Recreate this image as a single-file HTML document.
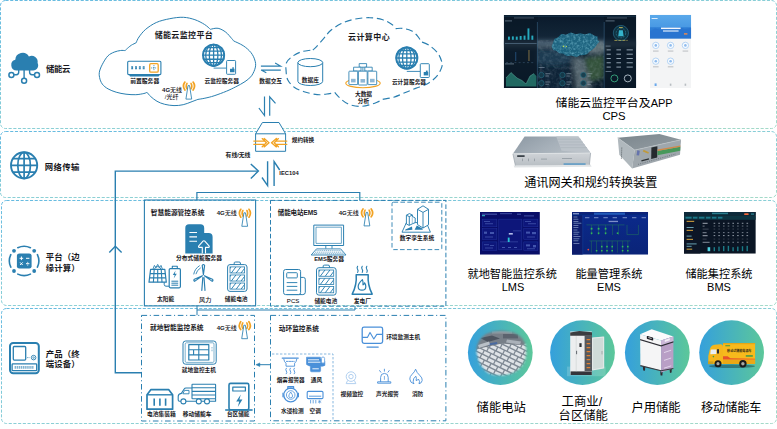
<!DOCTYPE html>
<html lang="zh-CN">
<head>
<meta charset="utf-8">
<title>储能云监控平台架构</title>
<style>
html,body{margin:0;padding:0;background:#fff;}
body{width:777px;height:429px;overflow:hidden;position:relative;font-family:"Liberation Sans","Noto Sans CJK SC",sans-serif;}
svg{position:absolute;left:0;top:0;display:block;}
svg text{font-family:"Liberation Sans","Noto Sans CJK SC",sans-serif;}
</style>
</head>
<body>
<svg width="777" height="429" viewBox="0 0 777 429">
<defs>
<linearGradient id="pg" x1="0" y1="0" x2="1" y2="1"><stop offset="0" stop-color="#4aaedb"/><stop offset="0.5" stop-color="#74c6cf"/><stop offset="1" stop-color="#93d3bf"/></linearGradient>
<linearGradient id="cg" x1="0" y1="0" x2="1" y2="0"><stop offset="0" stop-color="#35a0dc"/><stop offset="1" stop-color="#5cc79a"/></linearGradient>
</defs>
<rect x="0.5" y="0.5" width="776" height="128" rx="5" ry="5" fill="none" stroke="url(#pg)" stroke-width="0.85" stroke-dasharray="3.1 1.6"/>
<rect x="0.5" y="131.5" width="776" height="66" rx="5" ry="5" fill="none" stroke="url(#pg)" stroke-width="0.85" stroke-dasharray="3.1 1.6"/>
<rect x="1.5" y="200.5" width="775" height="105" rx="5" ry="5" fill="none" stroke="url(#pg)" stroke-width="0.85" stroke-dasharray="3.1 1.6"/>
<rect x="1.5" y="308.5" width="775" height="115" rx="5" ry="5" fill="none" stroke="url(#pg)" stroke-width="0.85" stroke-dasharray="3.1 1.6"/>
<!-- layer: 储能云 -->
<g fill="#2a7fb0" stroke="none"><path d="M16.6 70.6a5.5 5.5 0 0 1 -1.3 -10.8a7.3 7.3 0 0 1 13.6 -3.3a6.1 6.1 0 0 1 8.7 6.5a5.2 5.2 0 0 1 -4.4 7.6z"/></g>
<g fill="none" stroke="#2a7fb0" stroke-width="1.4"><path d="M24.1 70v8M18.7 70v2.2q0 2.2 -2.4 2.6h-2.2M29.6 70v2.2q0 2.2 2.4 2.6h2.2"/><circle cx="11.4" cy="74.9" r="2.5" fill="#fff" stroke-width="1.5"/><circle cx="37" cy="74.9" r="2.5" fill="#fff" stroke-width="1.5"/><circle cx="24.1" cy="80.7" r="2.5" fill="#fff" stroke-width="1.5"/></g>
<text x="45.90" y="72.01" font-size="8.4" font-weight="bold" text-anchor="start" letter-spacing="-0.35" fill="#17171c">储能云</text>
<!-- layer: 网络传输 -->
<g fill="none" stroke="#2a7fb0" stroke-width="1.9"><circle cx="24.1" cy="165.4" r="13.1"/><ellipse cx="24.1" cy="165.4" rx="6.3" ry="13.1" stroke-width="1.7"/><path d="M24.1 152.2v26.4M11 165.4h26.2M13 158.7h22.2M13 172.1h22.2" stroke-width="1.7"/></g>
<text x="44.80" y="170.21" font-size="8.4" font-weight="bold" text-anchor="start" letter-spacing="0.33" fill="#17171c">网络传输</text>
<!-- layer: 平台 -->
<g fill="none" stroke="#2a7fb0" stroke-width="1.6" stroke-linecap="round"><path d="M17.8 247.7a14.6 14.6 0 0 1 12.6 0M37.4 254.6a14.6 14.6 0 0 1 0 12.6M30.4 274.1a14.6 14.6 0 0 1 -12.6 0M10.8 267.2a14.6 14.6 0 0 1 0 -12.6"/></g>
<g fill="#2a7fb0"><circle cx="14" cy="250.8" r="1.9"/><circle cx="34.2" cy="250.8" r="1.9"/><circle cx="14" cy="271" r="1.9"/><circle cx="34.2" cy="271" r="1.9"/><rect x="16.9" y="253.4" width="14.7" height="15.2" rx="2.4"/></g>
<g stroke="#fff" stroke-width="1" fill="none"><path d="M19.6 258.3h3.6M21.4 256.5v3.6M26 258.3h3.4M20.1 262.4l2.6 2.6M22.7 262.4l-2.6 2.6M26 263.7h3.4M27.7 261.9v0.8M27.7 264.7v0.8"/></g>
<text x="45.80" y="260.21" font-size="8.4" font-weight="bold" text-anchor="start" letter-spacing="0.15" fill="#17171c">平台（边</text>
<text x="45.80" y="270.51" font-size="8.4" font-weight="bold" text-anchor="start" letter-spacing="0.15" fill="#17171c">缘计算）</text>
<!-- layer: 产品 -->
<g fill="none" stroke="#2a7fb0"><rect x="10" y="342.9" width="28.8" height="30.4" rx="3.2" stroke-width="2"/><rect x="13.3" y="346.5" width="12.4" height="13.6" rx="1" stroke-width="1.3"/><circle cx="33.6" cy="357.6" r="2.3" stroke-width="0.9"/><circle cx="33.6" cy="357.6" r="0.8" stroke-width="0.7"/><path d="M27.2 357.6h2.4" stroke-width="0.8" stroke-dasharray="0.8 0.6"/><rect x="12.1" y="363.9" width="24.6" height="6.8" rx="0.8" stroke-width="1.3"/><path d="M14.6 367.4H34" stroke-width="2.6" stroke-dasharray="1.5 0.6" opacity="0.6"/></g>
<text x="45.80" y="356.51" font-size="8.4" font-weight="bold" text-anchor="start" letter-spacing="0.15" fill="#17171c">产品（终</text>
<text x="45.80" y="366.71" font-size="8.4" font-weight="bold" text-anchor="start" letter-spacing="0.15" fill="#17171c">端设备）</text>
<!-- 储能云监控平台 -->
<path d="M125.1 50.6C125.6 50.1 127.2 48.5 128.3 47.6C129.4 46.7 130.2 45.9 131.5 45.1C132.8 44.3 135.3 43.2 136.1 42.8C136.6 41.8 137.4 39.2 139.0 37.0C140.6 34.8 142.8 31.7 145.7 29.3C148.6 26.9 152.3 24.3 156.3 22.5C160.3 20.7 165.3 19.6 169.8 18.7C174.3 17.8 179.2 17.1 183.4 17.3C187.6 17.5 191.4 18.5 194.9 19.7C198.4 20.9 202.0 22.9 204.6 24.5C207.2 26.1 209.4 28.5 210.4 29.3C211.7 29.1 215.5 27.8 218.1 28.3C220.7 28.8 223.6 30.5 225.8 32.2C228.1 33.9 230.3 37.0 231.6 38.4C232.9 39.8 233.3 40.5 233.6 40.9C235.2 41.7 240.3 43.8 243.2 45.7C246.1 47.6 249.0 50.1 250.9 52.5C252.8 54.9 254.1 57.6 254.8 60.0C255.6 62.4 255.9 64.5 255.4 67.1C254.9 69.7 253.3 73.4 251.6 75.8C249.9 78.2 247.6 79.8 245.0 81.6C242.4 83.4 238.9 85.2 235.8 86.8C232.7 88.4 230.1 89.7 226.5 91.2C222.9 92.7 217.7 94.6 214.1 95.8C210.5 97.0 207.6 97.6 204.9 98.2C202.2 98.8 199.1 99.2 197.9 99.4C196.8 99.8 193.4 101.1 191.0 102.0C188.6 102.9 186.0 104.1 183.2 104.7C180.4 105.3 177.1 105.7 174.0 105.6C170.9 105.5 167.5 105.0 164.7 104.3C161.9 103.6 159.3 102.6 157.0 101.3C154.7 100.0 152.5 98.1 150.8 96.6C149.1 95.1 147.6 93.0 147.0 92.3C146.5 92.5 145.8 93.1 143.9 93.5C142.0 93.9 138.8 94.6 135.8 94.7C132.8 94.8 129.3 94.6 126.0 94.2C122.7 93.8 119.2 93.1 116.2 92.2C113.2 91.3 110.4 90.2 108.1 88.9C105.8 87.6 103.7 86.0 102.3 84.1C100.9 82.2 100.0 79.7 99.6 77.5C99.1 75.3 99.0 73.5 99.6 71.0C100.2 68.5 101.8 65.3 103.2 62.8C104.6 60.3 106.2 57.6 108.0 55.8C109.8 54.0 112.1 53.0 114.2 52.1C116.3 51.2 118.8 50.8 120.6 50.5C122.4 50.2 124.3 50.6 125.1 50.6Z" fill="none" stroke="#2a7fb0" stroke-width="1" stroke-linejoin="round"/>
<text x="183.90" y="38.26" font-size="8" font-weight="bold" text-anchor="middle" letter-spacing="0.35" fill="#17171c">储能云监控平台</text>
<g><path d="M129 74.6H159.6L158.6 76.6H130Z" fill="#2a7fb0"/><rect x="127.7" y="61.2" width="33.2" height="13.4" rx="1" fill="#fff" stroke="#2a7fb0" stroke-width="1.1"/><path d="M131.2 67.8h13.6" stroke="#2a7fb0" stroke-width="3" stroke-dasharray="1.9 1.95" fill="none"/><path d="M131.2 67.8h13.6" stroke="#fff" stroke-width="1" stroke-dasharray="0.5 0.9 0.5 1.95" stroke-dashoffset="-0.25" fill="none" opacity="0.7"/><rect x="149.7" y="63.7" width="8.5" height="8.5" rx="1.2" fill="#fff" stroke="#f2a324" stroke-width="1.3"/><path d="M153.95 65.2v5.5M151.2 67.95h5.5" stroke="#2a7fb0" stroke-width="0.9" stroke-dasharray="1 0.8" fill="none"/></g>
<text x="144.70" y="83.05" font-size="5.8" font-weight="bold" text-anchor="middle" fill="#17171c">前置服务器</text>
<text x="172.10" y="92.22" font-size="6" font-weight="500" text-anchor="middle" fill="#17171c"><tspan font-weight="bold">4G</tspan>无线</text>
<text x="171.60" y="99.22" font-size="6" font-weight="500" text-anchor="middle" fill="#17171c">/光纤</text>
<g fill="none" stroke-linecap="round"><path d="M187.00 83.30Q185.30 86.00 187.00 88.90M191.00 83.30Q192.70 86.00 191.00 88.90" stroke="#f2a324" stroke-width="1.55"/><path d="M184.90 82.10Q182.00 86.00 184.90 90.00M193.10 82.10Q196.00 86.00 193.10 90.00" stroke="#f2a324" stroke-width="1.75"/><path d="M188.45 85.60L189.55 85.60L191.70 99.10L186.30 99.10Z" stroke="#2a7fb0" stroke-width="0.85" stroke-linejoin="round" fill="#fff"/></g>
<clipPath id="gc1"><circle cx="213.6" cy="55.2" r="11.50"/></clipPath>
<path d="M213.60 68.10H226.6" stroke="#2a7fb0" stroke-width="0.9" fill="none"/>
<circle cx="213.6" cy="55.2" r="10.55" fill="#fff" stroke="#2a7fb0" stroke-width="1.9"/>
<g clip-path="url(#gc1)" fill="none" stroke="#2a7fb0" stroke-width="1.3"><path d="M202.1 55.2H225.1M202.1 51.150000000000006H225.1M202.1 59.25H225.1M202.1 47.7H225.1M202.1 62.7H225.1M213.6 43.7V66.7"/><ellipse cx="213.6" cy="55.2" rx="4.3" ry="11.00"/><ellipse cx="213.6" cy="55.2" rx="7.9" ry="11.20"/></g>
<rect x="226.6" y="60.5" width="9" height="13.8" rx="0.8" fill="#fff" stroke="#2a7fb0" stroke-width="0.95"/>
<rect x="230.02" y="68.78" width="4.50" height="3.45" fill="#2a7fb0"/>
<rect x="232.18" y="67.40" width="1.80" height="1.38" fill="#2a7fb0"/>
<text x="221.80" y="83.03" font-size="5.75" font-weight="bold" text-anchor="middle" fill="#17171c">云监控服务器</text>
<g fill="none" stroke="#2a7fb0" stroke-width="1.15" stroke-linejoin="miter"><path d="M260.9 66.1H280.6L275.1 63M280.8 70.1H261.1L266.3 72.8"/></g>
<text x="270.70" y="82.61" font-size="5.7" font-weight="bold" text-anchor="middle" fill="#17171c">数据交互</text>
<g fill="none" stroke="#2a7fb0" stroke-width="1.2"><path d="M264.5 96.6V115.5L258.9 108M269.7 115.7V96.8L275.5 103.4"/></g>
<!-- 云计算中心 -->
<path d="M312.8 50.0C313.4 49.5 314.3 49.1 316.1 47.2C317.9 45.3 321.4 41.1 323.8 38.4C326.2 35.7 327.4 33.3 330.3 30.8C333.2 28.3 337.3 25.5 341.3 23.6C345.3 21.7 349.7 20.2 354.4 19.2C359.1 18.2 365.0 17.6 369.7 17.7C374.4 17.8 379.1 18.7 382.8 19.8C386.5 20.9 389.4 22.7 391.6 24.2C393.8 25.7 395.3 27.9 396.0 28.6C397.1 28.6 399.9 28.0 402.5 28.4C405.1 28.8 408.8 29.5 411.3 30.8C413.9 32.1 416.2 34.5 417.8 36.3C419.4 38.1 420.6 40.8 421.1 41.7C422.4 42.2 426.1 43.2 428.8 45.0C431.5 46.8 435.4 50.0 437.5 52.7C439.6 55.4 440.8 58.7 441.5 61.0C442.2 63.3 442.6 64.2 441.9 66.6C441.2 69.0 439.7 72.6 437.5 75.3C435.3 78.0 432.4 80.8 428.8 83.0C425.2 85.2 419.6 86.8 415.6 88.4C411.6 90.0 408.3 91.3 404.7 92.8C401.1 94.3 397.4 96.1 393.8 97.2C390.2 98.3 384.6 99.0 382.8 99.4C382.1 99.8 380.6 100.7 378.4 101.6C376.2 102.5 373.0 104.0 369.7 104.8C366.4 105.6 362.4 106.6 358.8 106.4C355.2 106.2 350.9 105.2 347.8 103.8C344.7 102.4 342.4 100.2 340.2 98.3C338.0 96.4 335.6 93.4 334.7 92.4C333.6 92.7 331.0 93.5 328.1 93.9C325.2 94.3 321.2 95.0 317.2 94.6C313.2 94.2 307.9 92.9 304.1 91.7C300.3 90.5 296.9 89.3 294.2 87.3C291.5 85.3 289.0 82.4 287.7 79.7C286.4 77.0 286.3 73.8 286.1 70.9C285.9 68.0 285.4 65.0 286.6 62.5C287.8 60.0 290.6 57.7 293.1 55.9C295.7 54.1 299.0 52.5 301.9 51.6C304.8 50.7 308.8 50.5 310.6 50.2C312.4 49.9 312.4 50.0 312.8 50.0Z" fill="none" stroke="#2a7fb0" stroke-width="1.15" stroke-dasharray="7 3.8" stroke-linejoin="round"/>
<text x="369.10" y="40.36" font-size="8" font-weight="bold" text-anchor="middle" letter-spacing="0.45" fill="#17171c">云计算中心</text>
<g fill="#fff" stroke="#2a7fb0" stroke-width="1"><path d="M297.9 62.6V81.4A12.4 4.1 0 0 0 322.7 81.4V62.6"/><ellipse cx="310.3" cy="62.6" rx="12.4" ry="4.1"/></g>
<text x="310.30" y="81.91" font-size="5.7" font-weight="bold" text-anchor="middle" fill="#17171c">数据库</text>
<ellipse cx="363" cy="83.2" rx="17.2" ry="4.5" fill="none" stroke="#f2a324" stroke-width="1.1"/>
<g fill="#fff" stroke="#2a7fb0" stroke-width="0.85" stroke-linejoin="round"><path d="M357.4 67.6V71M368.4 67.6V71M362.9 65V71" fill="none"/><rect x="359.2" y="63.6" width="7.4" height="3.6"/><rect x="353.6" y="67.2" width="7.4" height="3.8"/><rect x="364.8" y="67.2" width="7.4" height="3.8"/><rect x="348.9" y="71.2" width="8.8" height="13.4" rx="0.6"/><rect x="367.9" y="71.2" width="8.8" height="13.4" rx="0.6"/><rect x="358.4" y="71.2" width="8.8" height="13.8" rx="0.6"/></g>
<g fill="#8fb8d6"><rect x="351" y="78.8" width="4.6" height="3.6"/><rect x="360.5" y="79" width="4.6" height="3.6"/><rect x="370" y="78.8" width="4.6" height="3.6"/></g>
<text x="363.50" y="96.01" font-size="5.7" font-weight="bold" text-anchor="middle" fill="#17171c">大数据</text>
<text x="363.50" y="102.51" font-size="5.7" font-weight="bold" text-anchor="middle" fill="#17171c">分析</text>
<clipPath id="gc2"><circle cx="406.8" cy="58" r="11.50"/></clipPath>
<path d="M406.80 71.40H420.3" stroke="#2a7fb0" stroke-width="0.9" fill="none"/>
<circle cx="406.8" cy="58" r="10.55" fill="#fff" stroke="#2a7fb0" stroke-width="1.9"/>
<g clip-path="url(#gc2)" fill="none" stroke="#2a7fb0" stroke-width="1.3"><path d="M395.3 58H418.3M395.3 53.95H418.3M395.3 62.05H418.3M395.3 50.5H418.3M395.3 65.5H418.3M406.8 46.5V69.5"/><ellipse cx="406.8" cy="58" rx="4.3" ry="11.00"/><ellipse cx="406.8" cy="58" rx="7.9" ry="11.20"/></g>
<rect x="420.3" y="63.7" width="9" height="13.8" rx="0.8" fill="#fff" stroke="#2a7fb0" stroke-width="0.95"/>
<rect x="423.72" y="71.98" width="4.50" height="3.45" fill="#2a7fb0"/>
<rect x="425.88" y="70.60" width="1.80" height="1.38" fill="#2a7fb0"/>
<text x="409.00" y="83.81" font-size="5.7" font-weight="bold" text-anchor="middle" fill="#17171c">云计算服务器</text>
<!-- 规约转换 -->
<g fill="#fff" stroke="#2a7fb0" stroke-width="1" stroke-linejoin="round"><path d="M255.6 133.8L262.4 122.5H279L285.6 133.8V151.3H255.6Z"/><path d="M255.6 133.8H285.6" fill="none"/></g>
<g fill="none" stroke="#f2a324" stroke-width="1.35" stroke-linejoin="round" stroke-linecap="round"><path d="M253.8 141.1H264.2V138.5L269 142.7L264.2 146.9V144.3H253.8M286.8 141.1H276.4V138.5L271.5 142.7L276.4 146.9V144.3H286.8"/><path d="M262.2 138.6L266.4 142.7L262.2 146.8M278.4 138.6L274.2 142.7L278.4 146.8"/></g>
<text x="303.00" y="142.27" font-size="5.6" font-weight="bold" text-anchor="middle" fill="#17171c">规约转换</text>
<text x="238.00" y="156.85" font-size="5.8" font-weight="bold" text-anchor="middle" fill="#17171c">有线/无线</text>
<text x="289.00" y="174.65" font-size="5.8" font-weight="bold" text-anchor="middle" fill="#17171c">IEC104</text>
<g fill="none" stroke="#2a7fb0" stroke-width="1.4" stroke-linejoin="miter"><path d="M141 372.8H115.3V171.1H257.8"/><path d="M250.8 163.9L258.4 171.1L250.8 178.4"/><path d="M109.3 252.4L115.3 246.2L121.6 252.4"/><path d="M267.6 161.3V185.6L262 177.5M274.1 185.9V161.6L279.7 170"/><path d="M196.9 200V192.5H359.8V200" stroke-width="1.2"/><path d="M197 306V315.2M197 310H355V306" stroke-width="1"/></g>
<!-- 智慧能源管控系统 -->
<rect x="144.4" y="200" width="111.2" height="105.9" fill="none" stroke="#2a7fb0" stroke-width="1.1"/>
<text x="177.60" y="215.28" font-size="6.7" font-weight="bold" text-anchor="middle" fill="#17171c">智慧能源管控系统</text>
<text x="226.70" y="215.02" font-size="6" font-weight="500" text-anchor="middle" fill="#17171c"><tspan font-weight="bold">4G</tspan>无线</text>
<g fill="none" stroke-linecap="round"><path d="M242.90 210.50Q241.20 213.20 242.90 216.10M246.90 210.50Q248.60 213.20 246.90 216.10" stroke="#f2a324" stroke-width="1.55"/><path d="M240.80 209.30Q237.90 213.20 240.80 217.20M249.00 209.30Q251.90 213.20 249.00 217.20" stroke="#f2a324" stroke-width="1.75"/><path d="M244.35 212.80L245.45 212.80L247.60 226.30L242.20 226.30Z" stroke="#2a7fb0" stroke-width="0.85" stroke-linejoin="round" fill="#fff"/></g>
<g fill="#2a7fb0"><path d="M185.3 253.4V228Q185.3 224.3 189 224.3H200.5Q204.2 224.3 204.2 228V232.9H208.6Q212.6 232.9 212.6 236.9V253.4Z"/></g>
<path d="M189.4 232.5h7.6M189.4 236.9h7.6M189.4 241.3h7.6" stroke="#fff" stroke-width="1.1" fill="none"/>
<path d="M202.3 253.6V247.4H199.4Q198 247.2 198.8 245.9L203 241.2Q203.9 240.2 204.8 241.2L209 245.9Q209.8 247.2 208.4 247.4H205.5V253.6" fill="#2a7fb0" stroke="#fff" stroke-width="1.1" stroke-linejoin="round"/>
<text x="199.00" y="260.23" font-size="5.75" font-weight="bold" text-anchor="middle" fill="#17171c">分布式储能服务器</text>
<g fill="none" stroke="#2a7fb0" stroke-linejoin="round"><path d="M153.2 268.6L154.4 265.4L156 267.6L157.7 264.4L159.4 267.6L161 265.4L162.2 268.6" stroke-width="0.9" stroke-linecap="round"/><path d="M154.6 269A3.2 3.2 0 0 1 160.8 269" stroke-width="0.9"/><path d="M150.6 269.4H164.8L166.3 282.2H149Z" stroke-width="1.2"/><path d="M150 273.6H165.4M149.5 277.9H165.8M154.2 269.4L153.4 282.2M157.7 269.4V282.2M161.2 269.4L162 282.2" stroke-width="1.1"/><path d="M164.2 282.2V284.4Q164.2 286.2 166 286.2H169" stroke-width="1"/><rect x="169.2" y="268.6" width="11.2" height="19.2" rx="1.2" fill="#fff" stroke-width="1.2"/><path d="M172.3 268.4V266.2H177.3V268.4" stroke-width="1.1"/><path d="M171.4 281.2H178.2M171.4 283.2H178.2M171.4 285.2H178.2" stroke-width="1"/></g>
<path d="M175.6 270.6L172.8 275H174.7L173.7 278.4L176.8 273.8H174.8Z" fill="#2a7fb0"/>
<text x="165.60" y="301.01" font-size="5.7" font-weight="bold" text-anchor="middle" fill="#17171c">太阳能</text>
<g fill="none" stroke="#2a7fb0" stroke-width="1.15" stroke-linejoin="round" stroke-linecap="round"><path d="M201.8 290.4L202.8 277.6M205 290.4L204 277.6"/><path d="M203.4 274.6L202.2 265.6Q203.4 263.4 204.6 265.6Z" fill="#fff"/><path d="M202.4 275.8L194.6 281.4Q193.2 280.4 194.4 279.2Z" fill="#fff"/><path d="M204.4 275.8L212.2 281.4Q213.6 280.4 212.4 279.2Z" fill="#fff"/><path d="M199.4 265.8Q194.6 268.8 193.8 274M200.4 268Q196.8 270.2 196 273.8" stroke-width="0.9"/></g>
<text x="205.20" y="302.09" font-size="6.2" font-weight="500" text-anchor="middle" fill="#17171c">风力</text>
<g fill="none" stroke="#2a7fb0" stroke-width="1.0">
<path d="M234.20 264.60V262.80Q234.20 262.00 235.75 262.00H238.85Q240.40 262.00 240.40 262.80V264.60"/>
<rect x="227.60" y="264.60" width="19.40" height="26.80" rx="2.4"/>
<clipPath id="bt1_0"><rect x="230.00" y="266.90" width="14.60" height="6.07"/></clipPath>
<path d="M226.11 273.47L231.41 266.40M230.97 273.47L236.27 266.40M235.84 273.47L241.14 266.40M240.71 273.47L246.01 266.40M245.57 273.47L250.87 266.40" stroke-width="0.95" clip-path="url(#bt1_0)"/>
<rect x="230.00" y="266.90" width="14.60" height="6.07" stroke-width="0.8"/>
<clipPath id="bt1_1"><rect x="230.00" y="274.97" width="14.60" height="6.07"/></clipPath>
<path d="M226.11 281.53L231.41 274.47M230.97 281.53L236.27 274.47M235.84 281.53L241.14 274.47M240.71 281.53L246.01 274.47M245.57 281.53L250.87 274.47" stroke-width="0.95" clip-path="url(#bt1_1)"/>
<rect x="230.00" y="274.97" width="14.60" height="6.07" stroke-width="0.8"/>
<clipPath id="bt1_2"><rect x="230.00" y="283.03" width="14.60" height="6.07"/></clipPath>
<path d="M226.11 289.60L231.41 282.53M230.97 289.60L236.27 282.53M235.84 289.60L241.14 282.53M240.71 289.60L246.01 282.53M245.57 289.60L250.87 282.53" stroke-width="0.95" clip-path="url(#bt1_2)"/>
<rect x="230.00" y="283.03" width="14.60" height="6.07" stroke-width="0.8"/>
</g>
<text x="236.20" y="301.01" font-size="5.7" font-weight="bold" text-anchor="middle" fill="#17171c">储能电池</text>
<!-- 就地智能监控系统 -->
<rect x="141.5" y="315.4" width="113" height="105.6" fill="none" stroke="#2a7fb0" stroke-width="1" stroke-dasharray="5.6 2.7 1.1 2.7"/>
<text x="176.80" y="330.08" font-size="6.7" font-weight="bold" text-anchor="middle" fill="#17171c">就地智能监控系统</text>
<text x="226.70" y="329.82" font-size="6" font-weight="500" text-anchor="middle" fill="#17171c"><tspan font-weight="bold">4G</tspan>无线</text>
<g fill="none" stroke-linecap="round"><path d="M242.80 322.90Q241.10 325.60 242.80 328.50M246.80 322.90Q248.50 325.60 246.80 328.50" stroke="#f2a324" stroke-width="1.55"/><path d="M240.70 321.70Q237.80 325.60 240.70 329.60M248.90 321.70Q251.80 325.60 248.90 329.60" stroke="#f2a324" stroke-width="1.75"/><path d="M244.25 325.20L245.35 325.20L247.50 338.70L242.10 338.70Z" stroke="#2a7fb0" stroke-width="0.85" stroke-linejoin="round" fill="#fff"/></g>
<g fill="none" stroke="#2a7fb0" stroke-linejoin="round"><rect x="183" y="341" width="33.2" height="23.2" rx="2.6" stroke-width="1"/><rect x="185.2" y="342.8" width="28.8" height="19.6" rx="1.2" stroke-width="0.6"/><rect x="188.8" y="344.6" width="20" height="15.4" stroke-width="1.2"/><path d="M188.8 349.7H208.8M188.8 354.9H208.8M198.8 344.6V360M193.6 349.7V354.9" stroke-width="1.1"/><path d="M212 347V352" stroke-width="0.7" stroke-dasharray="0.8 0.8"/></g>
<text x="198.90" y="372.01" font-size="5.7" font-weight="bold" text-anchor="middle" fill="#17171c">就地监控主机</text>
<g fill="none" stroke="#2a7fb0" stroke-width="1.7" stroke-linejoin="round"><path d="M147 409.2V394.8L151 389.6H168.6L172.6 394.8V409.2Z"/><path d="M147 394.8H172.6" stroke-width="1.4"/><path d="M154.2 398.4V405.8M159.9 398.4V405.8M165.6 398.4V405.8" stroke-width="1.6"/></g>
<text x="161.30" y="415.93" font-size="5.75" font-weight="bold" text-anchor="middle" fill="#17171c">电池集装箱</text>
<g fill="none" stroke="#2a7fb0" stroke-width="1.1" stroke-linejoin="round"><rect x="192" y="384.2" width="23.6" height="14.6" rx="0.6"/><path d="M192 387.8H215.6M192 391.4H215.6M192 395H215.6"/><path d="M192 388H186Q184.8 388 184 389.2L181.4 393.4Q178.2 394 178.2 396.4V400Q178.2 401.2 179.4 401.2H215.6V398.8"/><path d="M184.6 390.4H189V393.8H182.8Z" stroke-width="0.9"/><circle cx="183.4" cy="401.4" r="2.5" fill="#fff"/><circle cx="198.8" cy="401.4" r="2.5" fill="#fff"/><circle cx="207" cy="401.4" r="2.5" fill="#fff"/></g>
<text x="197.20" y="415.93" font-size="5.75" font-weight="bold" text-anchor="middle" fill="#17171c">移动储能车</text>
<g fill="none" stroke="#2a7fb0" stroke-linejoin="round"><rect x="229" y="383.4" width="19.8" height="26.4" rx="1.6" stroke-width="1.6"/><rect x="232.8" y="387.2" width="12.6" height="3.8" stroke-width="1.2"/><path d="M225.2 410H252.6" stroke-width="1.6"/></g>
<path d="M240.8 394.6L236.2 401.4H239.2L237.8 407L242.4 399.6H239.4Z" fill="#2a7fb0"/>
<text x="238.20" y="415.87" font-size="5.6" font-weight="bold" text-anchor="middle" fill="#17171c">台区储能</text>
<!-- 储能电站EMS -->
<rect x="270.5" y="200.4" width="175.4" height="105.8" fill="none" stroke="#2a7fb0" stroke-width="1" stroke-dasharray="4.6 2.3"/>
<text x="277.80" y="215.10" font-size="6.5" font-weight="bold" text-anchor="start" letter-spacing="-0.1" fill="#17171c">储能电站EMS</text>
<text x="348.80" y="214.92" font-size="6" font-weight="500" text-anchor="middle" fill="#17171c"><tspan font-weight="bold">4G</tspan>无线</text>
<g fill="none" stroke-linecap="round"><path d="M365.10 210.10Q363.40 212.80 365.10 215.70M369.10 210.10Q370.80 212.80 369.10 215.70" stroke="#f2a324" stroke-width="1.55"/><path d="M363.00 208.90Q360.10 212.80 363.00 216.80M371.20 208.90Q374.10 212.80 371.20 216.80" stroke="#f2a324" stroke-width="1.75"/><path d="M366.55 212.40L367.65 212.40L369.80 225.90L364.40 225.90Z" stroke="#2a7fb0" stroke-width="0.85" stroke-linejoin="round" fill="#fff"/></g>
<g fill="none" stroke="#2a7fb0" stroke-linejoin="round"><rect x="313.8" y="225.1" width="29.8" height="20.4" stroke-width="1"/><rect x="316" y="227.2" width="25.4" height="16.2" stroke-width="0.7"/><path d="M325.8 245.6V248.6M332 245.6V248.6" stroke-width="0.9"/><path d="M316.5 248.9H340.7L346 255H311.2Z" stroke-width="0.9" fill="#fff"/><path d="M316.4 250.6H341.4M315 252.2H342.6M313.8 253.7H344" stroke-width="0.6" stroke-dasharray="1.2 0.7"/></g>
<text x="329.20" y="261.25" font-size="5.8" font-weight="bold" text-anchor="middle" fill="#17171c">EMS服务器</text>
<rect x="392" y="202.2" width="49.8" height="47.4" rx="1.5" fill="none" stroke="#2a7fb0" stroke-width="0.9" stroke-dasharray="4.6 2.3"/>
<g fill="#fff" stroke="#2a7fb0" stroke-width="0.95" stroke-linejoin="round"><path d="M406.4 222.6L402 232.2H430.4L426.4 222.6Z"/><path d="M405.4 229.6L412 226.6L412.4 229.8L405 230.6ZM414.6 229.8L416.8 225.4L422.8 228.8L422.6 229.8Z" fill="#2a7fb0" stroke="none"/><path d="M406.4 224V215.2L409.4 213.6L412.4 215V223.8L409.2 225.4Z"/><path d="M406.4 215.2L409.3 216.6L412.4 215M409.3 216.6V225.2" fill="none"/><path d="M412.4 216.4L415.2 218V222.6L412.4 223.8" /><path d="M417.5 224.6V209.3L423 205.8L428.5 209.3V224.8L423 228Z"/><path d="M417.5 209.3L423 212.4L428.5 209.3M423 212.4V228" fill="none"/></g>
<text x="416.90" y="239.53" font-size="5.75" font-weight="bold" text-anchor="middle" fill="#17171c">数字孪生系统</text>
<g fill="none" stroke="#2a7fb0" stroke-linejoin="round"><path d="M300.6 277.4H303.4Q305.3 277.4 305.3 279.4V292.2Q305.3 294.6 302.8 294.6H286.8" stroke-width="1"/><rect x="283.6" y="269.5" width="17" height="25.1" rx="2" stroke-width="1" fill="#fff"/><rect x="286.7" y="272.7" width="10.6" height="5.2" rx="0.8" stroke-width="0.95"/><path d="M286.7 282.6H297.3M286.7 286.4H297.3M286.7 290.2H297.3" stroke-width="0.95"/></g>
<text x="293.10" y="302.86" font-size="6.1" font-weight="normal" text-anchor="middle" fill="#000">PCS</text>
<g fill="none" stroke="#2a7fb0" stroke-width="1.0">
<path d="M323.16 267.70V265.90Q323.16 265.10 324.73 265.10H327.87Q329.44 265.10 329.44 265.90V267.70"/>
<rect x="316.50" y="267.70" width="19.60" height="27.40" rx="2.4"/>
<clipPath id="bt2_0"><rect x="318.90" y="270.00" width="14.80" height="6.27"/></clipPath>
<path d="M314.95 276.77L320.40 269.50M319.89 276.77L325.34 269.50M324.82 276.77L330.27 269.50M329.75 276.77L335.20 269.50M334.69 276.77L340.14 269.50" stroke-width="0.95" clip-path="url(#bt2_0)"/>
<rect x="318.90" y="270.00" width="14.80" height="6.27" stroke-width="0.8"/>
<clipPath id="bt2_1"><rect x="318.90" y="278.27" width="14.80" height="6.27"/></clipPath>
<path d="M314.95 285.03L320.40 277.77M319.89 285.03L325.34 277.77M324.82 285.03L330.27 277.77M329.75 285.03L335.20 277.77M334.69 285.03L340.14 277.77" stroke-width="0.95" clip-path="url(#bt2_1)"/>
<rect x="318.90" y="278.27" width="14.80" height="6.27" stroke-width="0.8"/>
<clipPath id="bt2_2"><rect x="318.90" y="286.53" width="14.80" height="6.27"/></clipPath>
<path d="M314.95 293.30L320.40 286.03M319.89 293.30L325.34 286.03M324.82 293.30L330.27 286.03M329.75 293.30L335.20 286.03M334.69 293.30L340.14 286.03" stroke-width="0.95" clip-path="url(#bt2_2)"/>
<rect x="318.90" y="286.53" width="14.80" height="6.27" stroke-width="0.8"/>
</g>
<text x="325.80" y="302.81" font-size="5.7" font-weight="bold" text-anchor="middle" fill="#17171c">储能电池</text>
<g fill="none" stroke="#2a7fb0" stroke-linejoin="round" stroke-linecap="round"><path d="M356.2 274.8H368.2Q367.4 285 372.2 294.2H352.2Q357 285 356.2 274.8Z" stroke-width="1.5"/><path d="M357.6 266.3q-1.1 1.5 0 3q1.1 1.5 0 3.1M362.2 266.3q-1.1 1.5 0 3q1.1 1.5 0 3.1M366.8 266.3q-1.1 1.5 0 3q1.1 1.5 0 3.1" stroke-width="1.1"/><path d="M362.4 279.6Q358.2 283.4 358.2 286.4Q358.2 290.2 362 290.2Q365.8 290.2 365.8 286.4Q365.8 284.4 364.6 282.8Q364 284.8 363 284.8Q363.4 282.2 362.4 279.6Z" stroke-width="1.2"/></g>
<text x="362.40" y="302.81" font-size="5.7" font-weight="bold" text-anchor="middle" fill="#17171c">发电厂</text>
<!-- 动环监控系统 -->
<rect x="270.5" y="315.4" width="175.4" height="105.4" fill="none" stroke="#2a7fb0" stroke-width="1" stroke-dasharray="5.6 2.7 1.1 2.7"/>
<text x="278.80" y="331.08" font-size="6.7" font-weight="bold" text-anchor="start" fill="#17171c">动环监控系统</text>
<g fill="none" stroke="#4a90d9" stroke-linejoin="round" stroke-linecap="round"><rect x="362.2" y="327.2" width="20.4" height="16.2" rx="1.8" stroke-width="1.3"/><path d="M362.6 337.4H367.4L370 332.4L373.8 339L376.8 334.4H382.2" stroke-width="1.1"/><path d="M367 347.1H378.2" stroke-width="1.3"/></g>
<text x="403.20" y="339.01" font-size="5.7" font-weight="bold" text-anchor="middle" fill="#17171c">环境监测主机</text>
<path d="M272 354H333V420.6" fill="none" stroke="#86b7df" stroke-width="1" stroke-dasharray="2.4 1.6"/>
<g fill="#2a7fb0" stroke="#2a7fb0" stroke-width="1"><path d="M270.2 364.7H258.6" fill="none"/><path d="M255.9 364.7L259.8 362.9V366.5Z" stroke-width="0.5"/></g>
<g fill="none" stroke="#4a90d9" stroke-width="0.9" stroke-linejoin="round" stroke-linecap="round"><path d="M282.3 358.1H298.2" stroke-width="1.4"/><path d="M283.8 359.2Q284.4 362.4 286 363.2V366.2H294.6V363.2Q296.2 362.4 296.8 359.2"/><path d="M286.4 361.4H294.2" stroke-dasharray="1.6 1"/><path d="M286.3 368.2q-1.1 1.4 0 2.8q1.1 1.4 0 2.8M290.3 368.2q-1.1 1.4 0 2.8q1.1 1.4 0 2.8M294.3 368.2q-1.1 1.4 0 2.8q1.1 1.4 0 2.8"/></g>
<text x="290.70" y="382.27" font-size="5.6" font-weight="bold" text-anchor="middle" fill="#17171c">烟雾报警器</text>
<g stroke="#4a90d9" stroke-linejoin="round"><path d="M306.5 357.2H320.4Q320.8 361 324.9 361.4V365.4Q322 366.6 320.6 366.2V370.6Q320.6 371.8 319.4 371.8H311.6Q310.4 371.8 310.4 370.6V366.2Q308 365.6 306.5 364.4Z" fill="#4a90d9" stroke-width="0.6"/><path d="M308 359.8H319M308 362.2H320.4M312.4 368.8H318.8" stroke="#fff" stroke-width="0.9" fill="none"/><rect x="321.4" y="357" width="3.2" height="6.2" rx="1.5" fill="#fff" stroke-width="0.7"/></g>
<text x="316.50" y="382.31" font-size="5.7" font-weight="bold" text-anchor="middle" fill="#17171c">通风</text>
<g fill="none" stroke="#4a90d9" stroke-linejoin="round"><circle cx="290.7" cy="395" r="6.9" stroke-width="1.3"/><circle cx="290.7" cy="395" r="4.3" stroke-width="0.8"/><path d="M287.8 386.6H293.6V388.4H287.8ZM283 392.8V397.2M298.4 392.8V397.2" stroke-width="1.2"/><path d="M290.7 392Q288.8 394.8 288.8 396Q288.8 397.8 290.7 397.8Q292.6 397.8 292.6 396Q292.6 394.8 290.7 392Z" stroke-width="0.8"/></g>
<text x="292.30" y="412.91" font-size="5.7" font-weight="bold" text-anchor="middle" fill="#17171c">水浸检测</text>
<g fill="none" stroke="#4a90d9" stroke-linejoin="round" stroke-linecap="round"><rect x="307.2" y="391.4" width="15.8" height="7.2" rx="1.2" stroke-width="1.1"/><path d="M309.4 396.2H320.8" stroke-width="0.9"/><path d="M310.6 400.4V403M313.2 400.4V403M315.8 400.4V403" stroke-width="0.8"/><path d="M319.6 400.2V403.2M318.3 401L320.9 402.4M320.9 401L318.3 402.4" stroke-width="0.6"/></g>
<text x="315.30" y="412.91" font-size="5.7" font-weight="bold" text-anchor="middle" fill="#17171c">空调</text>
<g fill="none" stroke="#a9cbee" stroke-width="0.9" stroke-linejoin="round"><circle cx="351" cy="376.6" r="4.8"/><circle cx="351" cy="376.6" r="2.2"/><path d="M347.6 380.4L346.2 383.6H355.8L354.4 380.4"/></g>
<text x="351.90" y="396.31" font-size="5.7" font-weight="bold" text-anchor="middle" fill="#17171c">视频监控</text>
<g fill="none" stroke="#4a90d9" stroke-width="0.9" stroke-linejoin="round" stroke-linecap="round"><path d="M380.6 381.6V377.4Q380.6 373.4 384.4 373.4Q388.2 373.4 388.2 377.4V381.6"/><path d="M378 381.8H390.8V383.2H378Z"/><path d="M384.4 369.2V371.2M379.6 370.6L380.8 372.2M389.2 370.6L388 372.2"/><path d="M384.4 376.4V379.4" stroke-width="0.7"/></g>
<text x="387.40" y="396.31" font-size="5.7" font-weight="bold" text-anchor="middle" fill="#17171c">声光报警</text>
<g fill="none" stroke="#4a90d9" stroke-width="0.9" stroke-linejoin="round"><path d="M415.6 369.2Q416.8 372.8 419.6 375.2Q422.6 378 422.2 380.4Q421.8 383.2 419 383.8Q420.4 381.4 418.4 379Q417.2 381 416 380.4Q417 378.4 415.8 376.2Q412.8 378.6 413.2 381.6Q413.4 382.8 414 383.8Q410 382.8 409.8 379Q409.6 376.6 412.2 374.2Q414.6 372 415.6 369.2Z"/></g>
<text x="417.60" y="396.31" font-size="5.7" font-weight="bold" text-anchor="middle" fill="#17171c">消防</text>
<defs>
<filter id="b05" x="-10%" y="-10%" width="120%" height="120%"><feGaussianBlur stdDeviation="0.5"/></filter>
<filter id="b1" x="-20%" y="-20%" width="140%" height="140%"><feGaussianBlur stdDeviation="1"/></filter>
<filter id="b2" x="-30%" y="-30%" width="160%" height="160%"><feGaussianBlur stdDeviation="2"/></filter>
<filter id="b3" x="-30%" y="-30%" width="160%" height="160%"><feGaussianBlur stdDeviation="3.2"/></filter>
<filter id="tex1" x="0" y="0" width="100%" height="100%"><feTurbulence type="fractalNoise" baseFrequency="0.42" numOctaves="2" seed="4" result="n"/><feColorMatrix in="n" type="matrix" values="0 0 0 0 0.26  0 0 0 0 0.62  0 0 0 0 0.74  0 0 0 1.9 -0.78" result="c"/><feComposite in="c" in2="SourceGraphic" operator="in" result="d"/><feGaussianBlur in="d" stdDeviation="0.35"/></filter>
<filter id="tex2" x="0" y="0" width="100%" height="100%"><feTurbulence type="fractalNoise" baseFrequency="0.3" numOctaves="2" seed="11" result="n"/><feColorMatrix in="n" type="matrix" values="0 0 0 0 0.45  0 0 0 0 0.55  0 0 0 0 0.62  0 0 0 1.8 -0.7" result="c"/><feComposite in="c" in2="SourceGraphic" operator="in" result="d"/><feGaussianBlur in="d" stdDeviation="0.5"/></filter>
<filter id="tex3" x="0" y="0" width="100%" height="100%"><feTurbulence type="fractalNoise" baseFrequency="0.35" numOctaves="2" seed="21" result="n"/><feColorMatrix in="n" type="matrix" values="0 0 0 0 0.55  0 0 0 0 0.62  0 0 0 0 0.68  0 0 0 2.2 -0.85" result="c"/><feComposite in="c" in2="SourceGraphic" operator="in"/></filter>
<clipPath id="cpBig"><rect x="503.8" y="15" width="132.4" height="73"/></clipPath>
<clipPath id="cpPh"><rect x="649.9" y="14.8" width="41.3" height="73.2"/></clipPath>
<clipPath id="cpL"><rect x="480" y="212" width="59.9" height="42.7"/></clipPath>
<clipPath id="cpE"><rect x="572" y="212" width="76.1" height="42.7"/></clipPath>
<clipPath id="cpB"><rect x="684" y="212" width="71.8" height="41.7"/></clipPath>
<mask id="mC1" maskUnits="userSpaceOnUse" x="465" y="318" width="72" height="72"><path d="M476.5 352Q476 340 486 334Q496 329.4 508 331.4Q520 332.6 524.6 342Q527.6 350 525.4 359Q522 369 512 373.6Q500 377.6 489 373.4Q478 367 476.5 352Z" fill="#fff" filter="url(#b1)"/></mask>
<linearGradient id="sky" x1="0" y1="0" x2="0" y2="1"><stop offset="0" stop-color="#0a1a2b"/><stop offset="0.36" stop-color="#14283a"/><stop offset="0.42" stop-color="#2b3c4a"/><stop offset="0.5" stop-color="#15293a"/><stop offset="1" stop-color="#0a1b2a"/></linearGradient>
<linearGradient id="phh" x1="0" y1="0" x2="0" y2="1"><stop offset="0" stop-color="#5aa9ea"/><stop offset="0.5" stop-color="#4a9ae4"/><stop offset="0.55" stop-color="#2f7fd6"/><stop offset="1" stop-color="#2a76d0"/></linearGradient>
<linearGradient id="d1t" x1="0" y1="0" x2="1" y2="0.4"><stop offset="0" stop-color="#8c98a3"/><stop offset="0.6" stop-color="#a6b0b9"/><stop offset="1" stop-color="#b4bcc3"/></linearGradient>
<linearGradient id="d1f" x1="0" y1="0" x2="0" y2="1"><stop offset="0" stop-color="#cfd3d7"/><stop offset="1" stop-color="#b9bfc4"/></linearGradient>
<linearGradient id="d2t" x1="0" y1="0" x2="1" y2="1"><stop offset="0" stop-color="#7b868d"/><stop offset="1" stop-color="#949da3"/></linearGradient>
<linearGradient id="emsg" x1="0" y1="0" x2="0" y2="1"><stop offset="0" stop-color="#0b2a8c"/><stop offset="1" stop-color="#0a2478"/></linearGradient>
</defs>
<g clip-path="url(#cpBig)">
<rect x="503.8" y="15" width="132.4" height="73" fill="url(#sky)"/>
<g filter="url(#b2)"><rect x="500" y="40.5" width="140" height="6" fill="#52687a" opacity="0.9"/><ellipse cx="596" cy="48" rx="12" ry="6" fill="#6a7a7e" opacity="0.8"/><path d="M536 50L566 49L574 60L560 66L536 64Z" fill="#1c3f55" opacity="0.9"/><path d="M572 58L583 58L592 90H576Z" fill="#66777d" opacity="0.8"/><path d="M584 58L604 55L604 78L590 82Z" fill="#35553d" opacity="0.95"/><path d="M540 66L570 64L574 90H540Z" fill="#122636" opacity="0.9"/></g>
<rect x="537.4" y="40" width="66.8" height="48" fill="#8fa6b8" opacity="0.22" filter="url(#tex2)"/>
<g filter="url(#b05)"><path d="M551.6 46.3L553.4 42L554.5 38.7L558 37.6L561.2 33.9L566 34.8L570.8 32.6L576 34.2L580.3 33.2L585 34.6L589.9 33L594 35.6L597.5 36.6L597.8 40L599.4 41.6L596.8 44.4L595.8 46.6L592.6 49.6L589.9 51.3L587 54L584.1 54.9L580 55.2L576.5 57L571 55.4L566.9 56L563 53.6L559.3 53.2L556 50.6L553.3 50.2Z" fill="#1b6682" opacity="0.95"/></g>
<g opacity="0.62"><path d="M551.6 46.3L553.4 42L554.5 38.7L558 37.6L561.2 33.9L566 34.8L570.8 32.6L576 34.2L580.3 33.2L585 34.6L589.9 33L594 35.6L597.5 36.6L597.8 40L599.4 41.6L596.8 44.4L595.8 46.6L592.6 49.6L589.9 51.3L587 54L584.1 54.9L580 55.2L576.5 57L571 55.4L566.9 56L563 53.6L559.3 53.2L556 50.6L553.3 50.2Z" fill="#fff" filter="url(#tex1)"/></g>
<circle cx="563.4" cy="46.4" r="0.8" fill="#b8dc5a"/><circle cx="566.4" cy="46.6" r="0.7" fill="#b8dc5a"/>
<rect x="503.8" y="15" width="33.6" height="73" fill="#0a1826" opacity="0.72"/>
<rect x="604.2" y="15" width="32" height="73" fill="#0a1826" opacity="0.72"/>
<path d="M537.4 22V88M604.2 22V88" stroke="#4a7aa0" stroke-width="0.5" fill="none" opacity="0.85"/>
<path d="M503.8 16.2H636.2" stroke="#28506e" stroke-width="0.6" opacity="0.8"/>
<g fill="#25a9bd" filter="url(#b05)"><rect x="508.0" y="36.6" width="1.9" height="3.2"/><rect x="511.9" y="36.4" width="1.9" height="3.4"/><rect x="515.8" y="36.6" width="1.9" height="3.2"/><rect x="519.7" y="36.0" width="1.9" height="3.8"/><rect x="523.6" y="35.6" width="1.9" height="4.2"/><rect x="527.5" y="28.4" width="1.9" height="11.4"/><rect x="531.4" y="35.6" width="1.9" height="4.2"/></g>
<g fill="#8fa3b5" opacity="0.6" filter="url(#b05)"><rect x="505" y="20.4" width="7" height="1"/><rect x="505" y="63.4" width="9" height="1"/><rect x="605.6" y="20.4" width="9" height="1"/><rect x="605.6" y="45.6" width="5" height="1"/><rect x="605.6" y="71" width="6" height="1"/><rect x="538.6" y="67" width="6" height="0.9"/><rect x="514" y="17.6" width="20" height="0.7"/><rect x="607" y="17.6" width="20" height="0.7"/></g>
<path d="M505 43.6H536.6" stroke="#6f8ea8" stroke-width="0.8" opacity="0.7"/>
<g filter="url(#b05)"><rect x="528.2" y="50" width="1.5" height="11" fill="#9a834a" opacity="0.55"/><rect x="515" y="52" width="1.3" height="9" fill="#25507a" opacity="0.7"/><path d="M506 62.6H535" stroke="#3f5f7a" stroke-width="0.5" stroke-dasharray="2 2.2"/></g>
<g filter="url(#b05)"><path d="M506 86.5V78L511 72.5L517 78L522 80.5L526 84L530 76L534 73.5L536.4 76V86.5Z" fill="#24776c" opacity="0.85"/><path d="M506 78L511 72.5L517 78L522 80.5L526 84L530 76L534 73.5" stroke="#7fd6c0" stroke-width="0.45" fill="none" opacity="0.8"/></g>
<g filter="url(#b05)"><circle cx="620.9" cy="33" r="7.6" fill="#10303f" stroke="#2a6f8c" stroke-width="0.7"/><circle cx="620.9" cy="33" r="4.8" fill="none" stroke="#2a8aa6" stroke-width="0.6" stroke-dasharray="2 1"/><path d="M619 30.2H622.8L623.6 36.2H618.2Z" fill="#35b4cc"/><path d="M619 27.6L622.8 27.6" stroke="#d9c65a" stroke-width="0.8"/><path d="M614.4 40.4H627.6" stroke="#cdbb58" stroke-width="0.7" stroke-dasharray="3 1"/></g>
<g fill="#c5d6e4" opacity="0.75" filter="url(#b05)"><rect x="606.6" y="49.4" width="4.2" height="0.95"/><rect x="616.4" y="49.4" width="4.6" height="0.95"/><rect x="626.6" y="49.4" width="6.2" height="0.95"/><rect x="606.6" y="53.7" width="4.2" height="0.95"/><rect x="616.4" y="53.7" width="4.6" height="0.95"/><rect x="626.6" y="53.7" width="6.2" height="0.95"/><rect x="606.6" y="58.0" width="4.2" height="0.95"/><rect x="616.4" y="58.0" width="4.6" height="0.95"/><rect x="626.6" y="58.0" width="6.2" height="0.95"/><rect x="606.6" y="62.3" width="4.2" height="0.95"/><rect x="616.4" y="62.3" width="4.6" height="0.95"/><rect x="626.6" y="62.3" width="6.2" height="0.95"/><rect x="606.6" y="66.6" width="4.2" height="0.95"/><rect x="616.4" y="66.6" width="4.6" height="0.95"/><rect x="626.6" y="66.6" width="6.2" height="0.95"/></g>
<g fill="none" stroke-width="0.9" filter="url(#b05)"><circle cx="614.4" cy="78.4" r="3.5" stroke="#3aa880"/><circle cx="627.8" cy="78.4" r="3.5" stroke="#b9c6d0"/></g>
<g fill="#123a4c" stroke="#2a7488" stroke-width="0.6" filter="url(#b05)" opacity="0.9"><circle cx="541.4" cy="75" r="2.7"/><circle cx="562.4" cy="75" r="2.7"/><circle cx="583.4" cy="75" r="2.7"/><circle cx="541.4" cy="83.2" r="2.7"/><circle cx="562.4" cy="83.2" r="2.7"/><circle cx="583.4" cy="83.2" r="2.7"/></g>
<g fill="#b9c9d6" opacity="0.6" filter="url(#b05)"><rect x="545.4" y="73.4" width="5" height="0.8"/><rect x="545.4" y="75.6" width="3.4" height="0.8"/><rect x="566.4" y="73.4" width="5" height="0.8"/><rect x="566.4" y="75.6" width="3.4" height="0.8"/><rect x="587.4" y="73.4" width="5" height="0.8"/><rect x="587.4" y="75.6" width="3.4" height="0.8"/><rect x="545.4" y="81.60000000000001" width="5" height="0.8"/><rect x="545.4" y="83.8" width="3.4" height="0.8"/><rect x="566.4" y="81.60000000000001" width="5" height="0.8"/><rect x="566.4" y="83.8" width="3.4" height="0.8"/><rect x="587.4" y="81.60000000000001" width="5" height="0.8"/><rect x="587.4" y="83.8" width="3.4" height="0.8"/></g>
<path d="M561.8 18.8H583" stroke="#cfdbe6" stroke-width="2" stroke-dasharray="2.3 0.75" fill="none" filter="url(#b05)" opacity="0.9"/>
</g>
<g clip-path="url(#cpPh)">
<rect x="649.9" y="14.8" width="41.3" height="73.2" fill="#f3f4f5"/>
<rect x="649.9" y="14.8" width="41.3" height="23.6" fill="url(#phh)"/>
<g filter="url(#b05)"><path d="M650 31L655 28.6L660 29.6L666 27.4L672 28.8L679 27.2L685 29L691.2 28V38.4H650Z" fill="#2873cf" opacity="0.9"/><rect x="661" y="27.6" width="19.6" height="1.5" fill="#f2f7fd"/><rect x="663" y="30.4" width="15.6" height="1.2" fill="#dbe9fa"/><rect x="684" y="33.2" width="3.4" height="1.4" fill="#f08a4a"/><rect x="651.6" y="18" width="6" height="1" fill="#dcebfb"/></g>
<g fill="#f7fbff" stroke="#9cc6f0" stroke-width="0.7" filter="url(#b05)"><circle cx="655.8" cy="45.4" r="3.2"/><circle cx="670.6" cy="45.4" r="3.2"/><circle cx="685.4" cy="45.4" r="3.2"/><circle cx="655.8" cy="61.2" r="3.2"/><circle cx="670.6" cy="61.2" r="3.2"/></g>
<g fill="#8fbcee" filter="url(#b05)"><circle cx="655.8" cy="45.4" r="1.3"/><circle cx="670.6" cy="45.4" r="1.3"/><circle cx="685.4" cy="45.4" r="1.3"/><circle cx="655.8" cy="61.2" r="1.3"/><circle cx="670.6" cy="61.2" r="1.3"/></g>
<g fill="#8a8f96" opacity="0.6" filter="url(#b05)"><rect x="653.0" y="50.6" width="5.6" height="0.9"/><rect x="667.8000000000001" y="50.6" width="5.6" height="0.9"/><rect x="682.6" y="50.6" width="5.6" height="0.9"/><rect x="653.0" y="66.4" width="5.6" height="0.9"/><rect x="667.8000000000001" y="66.4" width="5.6" height="0.9"/></g>
<g filter="url(#b05)"><rect x="654.6" y="83.4" width="2" height="2.6" fill="#6aa8ec"/><rect x="669.8" y="83.6" width="1.6" height="2.2" fill="#b9bdc2"/><rect x="684.6" y="83.6" width="1.6" height="2.2" fill="#b9bdc2"/></g>
</g>
<text x="614.10" y="106.70" font-size="11.9" font-weight="normal" text-anchor="middle" fill="#000">储能云监控平台及<tspan font-size="11">APP</tspan></text>
<text x="614.00" y="119.58" font-size="11.3" font-weight="normal" text-anchor="middle" fill="#000">CPS</text>
<g filter="url(#b05)">
<path d="M513.6 165.4L590.6 164.6L591.6 166.8L514.4 167.6Z" fill="#d9dde0" opacity="0.8"/>
<path d="M524.6 136.4H578.4L590.6 153L512.9 153.8Z" fill="url(#d1t)"/>
<path d="M556.2 136.4H578.4L590.6 153L561.6 150.8Z" fill="#bcc3ca"/>
<path d="M557.4 139.2H581M558.4 142H583M559.4 144.8H585M560.4 147.6H587" stroke="#aab2ba" stroke-width="0.6" fill="none"/>
<path d="M512.9 153.8L590.6 153L589.4 164.8L515.4 165.5Z" fill="url(#d1f)"/>
<path d="M512.9 153.8L590.6 153" stroke="#dfe3e6" stroke-width="0.8" fill="none"/>
<path d="M512.9 153.8L515.4 165.5M590.6 153L589.4 164.8" stroke="#9aa2aa" stroke-width="0.7" fill="none"/>
<rect x="517.2" y="155.2" width="7.4" height="1.8" fill="#3b424a"/>
<rect x="563.6" y="163.4" width="22" height="1.3" fill="#4a92c4"/>
<g fill="#9aa2a9"><rect x="522" y="158.6" width="1" height="2.6"/><rect x="528" y="158.6" width="1" height="2.6"/><rect x="534" y="158.6" width="1" height="2.6"/><rect x="541" y="158.6" width="6" height="1"/><rect x="562" y="158" width="10" height="1"/></g>
</g>
<g filter="url(#b05)">
<path d="M617.7 137.7L659.4 134.1L681 139.8L634.7 150.1Z" fill="url(#d2t)"/>
<path d="M617.7 137.7L634.7 150.1L632.1 168.6L619.3 154.7Z" fill="#b0b8bd"/>
<path d="M634.7 150.1L681 139.8L680 154.7L632.1 168.6Z" fill="#9fa7ad"/>
<path d="M617.7 137.7L634.7 150.1L681 139.8" stroke="#bcc3c7" stroke-width="0.7" fill="none"/>
<path d="M651.4 147.6L657.4 146.2L657.2 157.4L651.2 159Z" fill="#25292d"/>
<path d="M657.6 151L680.4 146.8L680.2 150.8L657.4 155.2Z" fill="#46985a"/>
<path d="M657.6 149.6L680.4 145.4L680.4 146.8L657.6 151Z" fill="#d08a48"/>
<path d="M643.2 150.6L648.6 153" stroke="#c09a3c" stroke-width="1.7"/>
<path d="M641.4 160.8L649 158.8" stroke="#2c3034" stroke-width="1.2"/>
<rect x="637" y="150.4" width="2.6" height="5" fill="#5666ac" opacity="0.8" transform="rotate(8 638 152)"/>
<path d="M621.8 147.6L621.4 158.6" stroke="#5a6268" stroke-width="1" stroke-dasharray="1 1"/>
<path d="M638 164.4L676 153.8" stroke="#6a7278" stroke-width="0.9" stroke-dasharray="1 1.3"/>
</g>
<text x="590.80" y="186.58" font-size="12.1" font-weight="normal" text-anchor="middle" fill="#000">通讯网关和规约转换装置</text>
<g clip-path="url(#cpL)">
<rect x="480" y="212" width="59.9" height="42.7" fill="#090e68"/>
<g filter="url(#b05)"><g fill="#0f187a" stroke="#2636a0" stroke-width="0.45"><rect x="482.2" y="219.1" width="14.7" height="7.7"/><rect x="482.2" y="228.7" width="14.7" height="10.9"/><rect x="482.2" y="241.9" width="14.7" height="8.6"/><rect x="498.8" y="219.1" width="23.1" height="30.8"/><rect x="523.8" y="219.1" width="14.1" height="7.7"/><rect x="523.8" y="228.7" width="14.1" height="10.9"/><rect x="523.8" y="241.9" width="14.1" height="8.6"/></g><g fill="#6f86d8" opacity="0.55"><rect x="482" y="213.6" width="15" height="1.2"/><rect x="500" y="213.2" width="12" height="1"/><rect x="517" y="213.6" width="4" height="1.2"/><rect x="524" y="215.4" width="10" height="1"/><rect x="484" y="221" width="6" height="0.8"/><rect x="485" y="223.4" width="8" height="0.8"/><rect x="484" y="231.6" width="3" height="2.2"/><rect x="490" y="232" width="4" height="2"/><rect x="485" y="236.6" width="8" height="0.8"/><rect x="484" y="244.4" width="5" height="0.8"/><rect x="490" y="245" width="4" height="0.8"/><rect x="485" y="247.6" width="8" height="0.8"/><rect x="525" y="221" width="6" height="0.8"/><rect x="528" y="223.4" width="8" height="0.8"/><rect x="526" y="231.6" width="4" height="2"/><rect x="532" y="232" width="4" height="2.2"/><rect x="527" y="236.6" width="8" height="0.8"/><rect x="526" y="244.4" width="4" height="2"/><rect x="533" y="245" width="3" height="2.4"/><rect x="527" y="248.4" width="8" height="0.8"/><rect x="500" y="241.6" width="18" height="0.6"/><rect x="502" y="247" width="3" height="1"/><rect x="508" y="247" width="3" height="1"/><rect x="514" y="247" width="3" height="1"/><rect x="513" y="230.6" width="8" height="0.6"/></g><rect x="508.8" y="233" width="4" height="1.6" fill="#b4bdea"/><rect x="507.8" y="237.6" width="1.8" height="4.4" fill="#27c2d6"/><rect x="482" y="215.2" width="3" height="1" fill="#35c9c9"/></g>
</g>
<g clip-path="url(#cpE)">
<rect x="572" y="212" width="76.1" height="42.7" fill="url(#emsg)"/>
<g filter="url(#b05)"><rect x="572" y="212" width="76.1" height="2.6" fill="#0a2478"/><rect x="594" y="212.6" width="31" height="2.2" fill="#2a6ccc" opacity="0.75"/><rect x="572" y="215.4" width="10.6" height="39.3" fill="#091f6c"/><path d="M582.8 215.4V254.7" stroke="#2148ac" stroke-width="0.4"/><g fill="#c3cff0" opacity="0.62"><rect x="573.4" y="216.6" width="4" height="0.8"/><rect x="573.4" y="218.8" width="5" height="0.8"/><rect x="573.4" y="221" width="5" height="0.8"/><rect x="573.4" y="222.8" width="8" height="0.8"/><rect x="573.4" y="225.2" width="5" height="0.8"/><rect x="573.4" y="227" width="5" height="0.8"/><rect x="573.4" y="229.6" width="4" height="0.8"/><rect x="573.4" y="231.8" width="6" height="0.8"/><rect x="573.4" y="233.8" width="5" height="0.8"/><rect x="573.4" y="236" width="7" height="0.8"/><rect x="573.4" y="238.4" width="6" height="0.8"/><rect x="573.4" y="240.4" width="5" height="0.8"/><rect x="573.4" y="243" width="6" height="0.8"/><rect x="573" y="213" width="6" height="1.4"/><rect x="585" y="217.2" width="4.4" height="1"/><rect x="594" y="217.2" width="4.4" height="1"/><rect x="603.4" y="217.2" width="4.4" height="1"/><rect x="612.6" y="217.2" width="4.4" height="1"/><rect x="622.6" y="217.2" width="4.4" height="1"/><rect x="632" y="217.2" width="4.4" height="1"/><rect x="641.6" y="217.2" width="4.4" height="1"/><rect x="608.6" y="220.8" width="9.4" height="1.3"/></g><g stroke="#2a9a4a" stroke-width="0.45" fill="none" opacity="0.8"><path d="M586.4 224.9H624.6M627 224.9V234.6H638.4V224.9"/><path d="M589.4 240.9H630.4"/><path d="M591.6 224.9V235"/><path d="M598.6 224.9V235"/><path d="M605.6 224.9V235"/><path d="M612.6 224.9V235"/><path d="M618.4 224.9V235"/><path d="M591.4 240.9V252.6"/><path d="M596.6 240.9V252.6"/><path d="M601.8 240.9V252.6"/><path d="M607.0 240.9V252.6"/><path d="M612.2 240.9V252.6"/><path d="M617.4 240.9V252.6"/><path d="M622.6 240.9V252.6"/><path d="M627.8 240.9V252.6"/></g><g fill="#38c058" opacity="0.9"><rect x="590.7" y="227.8" width="1.8" height="1.8"/><rect x="597.7" y="227.8" width="1.8" height="1.8"/><rect x="604.7" y="227.8" width="1.8" height="1.8"/><rect x="590.8000000000001" y="232.4" width="1.6" height="1.6"/><rect x="597.8000000000001" y="232.4" width="1.6" height="1.6"/><rect x="604.8000000000001" y="232.4" width="1.6" height="1.6"/><rect x="616.8000000000001" y="232.4" width="1.6" height="1.6"/><rect x="595.8" y="250" width="1.6" height="1.4"/><rect x="601.0" y="245.8" width="1.6" height="1.6"/><rect x="601.0" y="250" width="1.6" height="1.4"/><rect x="606.2" y="245.8" width="1.6" height="1.6"/><rect x="606.2" y="250" width="1.6" height="1.4"/><rect x="611.4" y="245.8" width="1.6" height="1.6"/><rect x="611.4" y="250" width="1.6" height="1.4"/><rect x="621.8" y="245.8" width="1.6" height="1.6"/><rect x="621.8" y="250" width="1.6" height="1.4"/><rect x="627.0" y="245.8" width="1.6" height="1.6"/><rect x="627.0" y="250" width="1.6" height="1.4"/></g><circle cx="588.3" cy="249.6" r="0.9" fill="#e8463c"/></g>
</g>
<g clip-path="url(#cpB)">
<rect x="684" y="212" width="71.8" height="41.7" fill="#0a1524"/>
<g filter="url(#b05)"><rect x="684" y="212" width="71.8" height="3.6" fill="#0b2a3a"/><rect x="684" y="215.6" width="71.8" height="4.2" fill="#0d3543"/><rect x="712" y="212.6" width="16" height="1.6" fill="#3fb6c6" opacity="0.6"/><rect x="744.2" y="213.2" width="4.4" height="1.9" rx="0.5" fill="#f0673a"/><rect x="751" y="213.4" width="3" height="1.4" fill="#2f8f9e" opacity="0.8"/><g fill="#1f7f8f" opacity="0.9"><rect x="685.6" y="216.8" width="6" height="1.8"/><rect x="693" y="216.8" width="4.4" height="1.8"/><rect x="699" y="216.8" width="5.4" height="1.8"/><rect x="706" y="216.8" width="4.4" height="1.8"/><rect x="712" y="216.8" width="4.4" height="1.8"/><rect x="718" y="216.8" width="4.4" height="1.8"/></g><rect x="684" y="219.8" width="16.4" height="33.9" fill="#0c1828"/><g fill="#d9a23a" opacity="0.85"><rect x="686.6" y="220.8" width="7.6" height="1.2"/><rect x="686.6" y="229.8" width="6.4" height="1.2"/><rect x="686.6" y="238.8" width="6.4" height="1.2"/><rect x="686.6" y="248.6" width="5.6" height="1.2"/></g><g fill="#8fd6e6" opacity="0.7"><rect x="686.6" y="227" width="7" height="1"/><rect x="686.6" y="235.6" width="5" height="1"/><rect x="686.6" y="243.4" width="10" height="1"/><rect x="686.6" y="245.8" width="5" height="1"/></g><g fill="#cfd8e2" opacity="0.75"><g opacity="1"><rect x="702.6" y="222.8" width="5" height="1"/><rect x="713.6" y="222.8" width="1.6" height="0.9"/><rect x="718.3" y="222.8" width="1.6" height="0.9"/><rect x="723.0" y="222.8" width="1.6" height="0.9"/><rect x="727.7" y="222.8" width="1.6" height="0.9"/><rect x="732.4" y="222.8" width="1.6" height="0.9"/><rect x="737.1" y="222.8" width="1.6" height="0.9"/><rect x="741.8" y="222.8" width="1.6" height="0.9"/><rect x="746.5" y="222.8" width="1.6" height="0.9"/></g><g opacity="0.7"><rect x="702.6" y="225.6" width="2" height="1"/><rect x="713.6" y="225.6" width="1.6" height="0.9"/><rect x="718.3" y="225.6" width="1.6" height="0.9"/><rect x="723.0" y="225.6" width="1.6" height="0.9"/><rect x="727.7" y="225.6" width="1.6" height="0.9"/><rect x="732.4" y="225.6" width="1.6" height="0.9"/><rect x="737.1" y="225.6" width="1.6" height="0.9"/><rect x="741.8" y="225.6" width="1.6" height="0.9"/><rect x="746.5" y="225.6" width="1.6" height="0.9"/></g><g opacity="0.35"><rect x="702.6" y="228.6" width="6" height="1"/><rect x="713.6" y="228.6" width="1.6" height="0.9"/><rect x="718.3" y="228.6" width="1.6" height="0.9"/><rect x="723.0" y="228.6" width="1.6" height="0.9"/><rect x="727.7" y="228.6" width="1.6" height="0.9"/><rect x="732.4" y="228.6" width="1.6" height="0.9"/><rect x="737.1" y="228.6" width="1.6" height="0.9"/><rect x="741.8" y="228.6" width="1.6" height="0.9"/><rect x="746.5" y="228.6" width="1.6" height="0.9"/></g><g opacity="0.8"><rect x="702.6" y="232.2" width="4" height="1"/><rect x="713.6" y="232.2" width="1.6" height="0.9"/><rect x="718.3" y="232.2" width="1.6" height="0.9"/><rect x="723.0" y="232.2" width="1.6" height="0.9"/><rect x="727.7" y="232.2" width="1.6" height="0.9"/><rect x="732.4" y="232.2" width="1.6" height="0.9"/><rect x="737.1" y="232.2" width="1.6" height="0.9"/><rect x="741.8" y="232.2" width="1.6" height="0.9"/><rect x="746.5" y="232.2" width="1.6" height="0.9"/></g><g opacity="1"><rect x="702.6" y="235.2" width="5" height="1"/><rect x="713.6" y="235.2" width="1.6" height="0.9"/><rect x="718.3" y="235.2" width="1.6" height="0.9"/><rect x="723.0" y="235.2" width="1.6" height="0.9"/><rect x="727.7" y="235.2" width="1.6" height="0.9"/><rect x="732.4" y="235.2" width="1.6" height="0.9"/><rect x="737.1" y="235.2" width="1.6" height="0.9"/><rect x="741.8" y="235.2" width="1.6" height="0.9"/><rect x="746.5" y="235.2" width="1.6" height="0.9"/></g><g opacity="0.3"><rect x="702.6" y="238.6" width="4" height="1"/><rect x="713.6" y="238.6" width="1.6" height="0.9"/><rect x="718.3" y="238.6" width="1.6" height="0.9"/><rect x="723.0" y="238.6" width="1.6" height="0.9"/><rect x="727.7" y="238.6" width="1.6" height="0.9"/><rect x="732.4" y="238.6" width="1.6" height="0.9"/><rect x="737.1" y="238.6" width="1.6" height="0.9"/><rect x="741.8" y="238.6" width="1.6" height="0.9"/><rect x="746.5" y="238.6" width="1.6" height="0.9"/></g><g opacity="0.8"><rect x="702.6" y="241.8" width="7" height="1"/><rect x="713.6" y="241.8" width="1.6" height="0.9"/><rect x="718.3" y="241.8" width="1.6" height="0.9"/><rect x="723.0" y="241.8" width="1.6" height="0.9"/><rect x="727.7" y="241.8" width="1.6" height="0.9"/><rect x="732.4" y="241.8" width="1.6" height="0.9"/><rect x="737.1" y="241.8" width="1.6" height="0.9"/><rect x="741.8" y="241.8" width="1.6" height="0.9"/><rect x="746.5" y="241.8" width="1.6" height="0.9"/></g></g><g fill="#1c7c88"><rect x="713.6" y="247.2" width="1.4" height="4"/><rect x="718.3" y="246.6" width="1.4" height="4.6"/><rect x="723.0" y="246.0" width="1.4" height="5.2"/><rect x="727.7" y="245.8" width="1.4" height="5.4"/><rect x="732.4" y="247.2" width="1.4" height="4"/><rect x="737.1" y="246.6" width="1.4" height="4.6"/><rect x="741.8" y="246.2" width="1.4" height="5"/><rect x="746.5" y="245.8" width="1.4" height="5.4"/></g><rect x="707.6" y="247.2" width="2.6" height="4" fill="#4fd2e0"/></g>
</g>
<text x="512.20" y="278.44" font-size="11.2" font-weight="normal" text-anchor="middle" fill="#000">就地智能监控系统</text>
<text x="513.00" y="291.07" font-size="11" font-weight="normal" text-anchor="middle" fill="#000">LMS</text>
<text x="609.00" y="278.44" font-size="11.2" font-weight="normal" text-anchor="middle" fill="#000">能量管理系统</text>
<text x="609.00" y="291.07" font-size="11" font-weight="normal" text-anchor="middle" fill="#000">EMS</text>
<text x="719.00" y="278.44" font-size="11.2" font-weight="normal" text-anchor="middle" fill="#000">储能集控系统</text>
<text x="719.00" y="291.07" font-size="11" font-weight="normal" text-anchor="middle" fill="#000">BMS</text>
<circle cx="500.3" cy="352.6" r="32.4" fill="url(#cg)"/>
<circle cx="582.5" cy="352.6" r="32.4" fill="url(#cg)"/>
<circle cx="657.3" cy="352.6" r="32.4" fill="url(#cg)"/>
<circle cx="731.6" cy="352.6" r="32.4" fill="url(#cg)"/>
<g mask="url(#mC1)"><g filter="url(#b05)">
<rect x="470" y="326" width="62" height="56" fill="#7f8994"/>
<g stroke="#dfe3e7" stroke-width="3" fill="none" stroke-dasharray="6.2 1.3"><path d="M468.0 310.4L534 342.4"/><path d="M470.5 316.5L534 347.3"/><path d="M468.0 320.2L534 352.2"/><path d="M470.5 326.3L534 357.1"/><path d="M468.0 330.0L534 362.0"/><path d="M470.5 336.1L534 366.9"/><path d="M468.0 339.8L534 371.8"/><path d="M470.5 345.9L534 376.7"/><path d="M468.0 349.6L534 381.6"/><path d="M470.5 355.7L534 386.5"/><path d="M468.0 359.4L534 391.4"/><path d="M470.5 365.5L534 396.3"/><path d="M468.0 369.2L534 401.2"/><path d="M470.5 375.3L534 406.1"/><path d="M468.0 379.0L534 411.0"/><path d="M470.5 385.1L534 415.9"/></g><path d="M470 326H532V342L520 345L502 343.6L486 347L470 351Z" fill="#777f88"/>
<path d="M480 338L492 335.6L500 338.6L488 342Z" fill="#4d5561"/><path d="M503 334H518V338.4H503Z" fill="#5b636e"/><path d="M488 343.4L497 342L497.4 344L488.4 345.4Z" fill="#4a6aa0"/><path d="M507 339.6L521 341.4L520 344.4L506 342.4Z" fill="#aab1b9"/>
<path d="M478 345L489 341.6L490 344.4L479 348Z" fill="#b9c0c7"/><path d="M492 331H512V333.6H492Z" fill="#8f969e"/>
</g></g>
<g filter="url(#b05)">
<rect x="567" y="366.6" width="38.6" height="9.6" fill="#ffffff" opacity="0.16"/>
<path d="M592 337.6L604.2 336.4V368.4L592 370.6Z" fill="#d6dcda" opacity="0.95"/>
<path d="M592.6 338.2L603.6 337.1V367.8L592.6 369.9Z" fill="none" stroke="#f2f4f3" stroke-width="0.6"/>
<path d="M570.2 331.6H591.8V374.7H570.2Z" fill="#eceeef"/>
<path d="M584.6 335.6H592V371H584.6Z" fill="#55595d"/>
<path d="M586.6 339.6h3.6M586.6 343.6h3.6M586.6 347.6h3.6M586.6 351.6h3.6M586.6 355.6h3.6M586.6 359.6h3.6M586.6 363.6h3.6M586.6 367.6h3.6" stroke="#e07f30" stroke-width="1.3" fill="none"/>
<path d="M570.2 332.6L579.4 331L592 332.2V335.8H570.2Z" fill="#3b3d40"/>
<path d="M570.6 371.4H591.8V375H570.6Z" fill="#34363a"/>
<path d="M576.2 336V371.4" stroke="#c4c8cb" stroke-width="0.5"/>
<rect x="579.4" y="343.2" width="2.2" height="3.8" fill="#2f3236"/><rect x="576" y="350.8" width="1.1" height="3.4" fill="#6d7278"/>
<rect x="601.6" y="351" width="0.8" height="3.4" fill="#9aa0a4"/>
</g>
<g filter="url(#b05)">
<path d="M642.8 366.4L643.2 370.4L645 370.8L645.2 367ZM660.2 371.4L660.6 375.6L662.4 375.6L662.6 371.6ZM669.6 369.4L670 373L671.6 372.6L671.8 368.6Z" fill="#2e2e33"/>
<path d="M640.1 334.3L651.7 329.2L673.4 336.5L661.1 340.5Z" fill="#fbfbfc"/>
<path d="M640.1 334.3L661.1 340.5V370.6L640.4 365.4Z" fill="#f5f5f6"/>
<path d="M661.1 340.5L673.4 336.5V368.3L661.1 372.6Z" fill="#b99fc6"/>
<path d="M661.1 340.5L673.4 336.5V341.6L661.1 345.6Z" fill="#cbb8d8"/>
<path d="M640.1 338.9L661.1 345.2L673.4 341.2V342.4L661.1 346.6L640.1 340.3Z" fill="#2f2f36"/>
<path d="M646.8 336.4Q646.8 335.8 647.6 336L652.6 337.5Q653.2 337.7 653.2 338.4V340Q653.2 340.7 652.4 340.5L647.4 339Q646.8 338.8 646.8 338.2Z" fill="#1f1f25"/><path d="M648.4 337.5L651.6 338.5" stroke="#f2f2f2" stroke-width="0.8"/>
<path d="M664.8 339.9L669.8 338.2V340.2L664.8 341.9Z" fill="#f3eff6"/>
<path d="M664 352.6L671.2 350.2M664 360.4L671.2 358M664 368.2L671.2 365.8" stroke="#e0d3e9" stroke-width="1" fill="none"/>
<path d="M640.3 365.6L661.1 370.8L673.4 368.5" stroke="#3a3a40" stroke-width="1.1" fill="none"/>
</g>
<g filter="url(#b05)">
<ellipse cx="732" cy="366.2" rx="23" ry="1.7" fill="#173f42" opacity="0.5"/>
<path d="M723 343.1H755.1V364H723Z" fill="#f7ba1c"/>
<path d="M723 360H755.1V364H723Z" fill="#eaa818"/>
<path d="M723 343.1H755.1V344.2H723Z" fill="#e4a616"/>
<path d="M708.3 356L709.8 349.4Q710.6 345.6 714.6 344.8L720.6 344.2Q723 344.2 723 346.4V364H708.3Z" fill="#f5b61a"/>
<path d="M710.7 349.8Q711 349.4 711.6 349.4L716.3 349.6V354L710.3 354.2Z" fill="#e9eef4"/>
<path d="M717 349.3H719V353.6H717Z" fill="#2a2f38"/>
<path d="M708 361.4H713.4V364.2H708Z" fill="#caa020"/>
<circle cx="718" cy="363.7" r="3.5" fill="#1a1a1c"/><circle cx="718" cy="363.7" r="1.6" fill="#a9a9a4"/>
<circle cx="742.9" cy="363.7" r="3.7" fill="#1a1a1c"/><circle cx="742.9" cy="363.7" r="1.7" fill="#a9a9a4"/>
<path d="M723 356.3L727.6 356.2L730.4 358.2L755.1 358.8V359.6H723Z" fill="#e8532a"/>
<rect x="745.8" y="355.2" width="7" height="1.5" fill="#3e9a4a"/>
<rect x="725.3" y="345.1" width="4.8" height="1.2" fill="#3e9a4a" opacity="0.85"/>
<circle cx="713.4" cy="356.6" r="0.8" fill="#3e9a4a"/>
</g>
<text x="739.30" y="351.63" font-size="3.05" font-weight="bold" text-anchor="middle" fill="#2a2418">移动式储能电源车</text>
<text x="501.20" y="412.25" font-size="12.3" font-weight="normal" text-anchor="middle" fill="#000">储能电站</text>
<text x="581.90" y="405.79" font-size="12.4" font-weight="normal" text-anchor="middle" fill="#000">工商业/</text>
<text x="583.20" y="419.55" font-size="12.3" font-weight="normal" text-anchor="middle" fill="#000">台区储能</text>
<text x="656.00" y="412.25" font-size="12.3" font-weight="normal" text-anchor="middle" fill="#000">户用储能</text>
<text x="731.20" y="412.18" font-size="12.1" font-weight="normal" text-anchor="middle" fill="#000">移动储能车</text>
</svg>
</body>
</html>
